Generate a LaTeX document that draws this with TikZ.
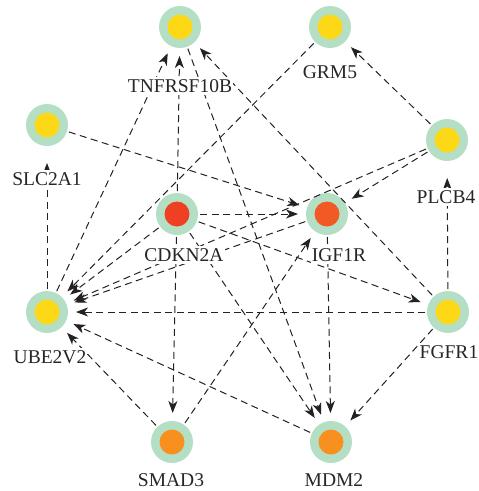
\documentclass[tikz,border=0pt]{standalone}
\usepackage{fontspec}
\setmainfont{Liberation Serif}
\usetikzlibrary{arrows.meta}
\definecolor{ring}{HTML}{B4DFC4}
\definecolor{gold}{HTML}{FDD816}
\definecolor{hotred}{HTML}{EE4124}
\definecolor{redorange}{HTML}{F15A24}
\definecolor{amber}{HTML}{F7901E}
\definecolor{linkcol}{HTML}{222222}
\tikzset{
  gene/.style={circle, fill=ring, minimum size=42pt, inner sep=0pt, outer sep=0pt,
    path picture={\fill[#1] (path picture bounding box.center) circle (12.5pt);}},
  lbl/.style={font=\fontsize{19.5}{20}\selectfont, text=black!85, fill=white,
    inner xsep=1pt, inner ysep=2pt},
  link/.style={draw=linkcol, line width=1pt, dash pattern=on 7pt off 4.5pt,
    -{Stealth[length=12pt,width=9pt,inset=3.5pt]}, shorten >=8pt, shorten <=2pt},
  longtip/.style={shorten >=17pt},
}
\begin{document}
\begin{tikzpicture}[x=1pt,y=-1pt]
\useasboundingbox (0,0) rectangle (479,491);

% genes
\node[gene=gold]      (tnf)  at (180,27)  {};
\node[gene=gold]      (grm)  at (330,27)  {};
\node[gene=gold]      (slc)  at (47,125)  {};
\node[gene=gold]      (plc)  at (447,140) {};
\node[gene=hotred]    (cdk)  at (177,214) {};
\node[gene=redorange] (igf)  at (327,214) {};
\node[gene=gold]      (ube)  at (47,312)  {};
\node[gene=gold]      (fgf)  at (448,312) {};
\node[gene=amber]     (smad) at (172,442) {};
\node[gene=amber]     (mdm)  at (331,442) {};

% interactions
\draw[link] (slc) -- (igf);
\draw[link] (cdk) -- (igf);
\draw[link,longtip] (ube) -- (slc);
\draw[link] (plc) -- (grm);
\draw[link] (plc) -- (igf);
\draw[link] (plc) -- (ube);
\draw[link,longtip] (fgf) -- (plc);
\draw[link] (fgf) -- (ube);
\draw[link] (fgf) -- (tnf);
\draw[link] (fgf) -- (mdm);
\draw[link] (cdk) -- (fgf);
\draw[link] (cdk) -- (tnf);
\draw[link] (cdk) -- (smad);
\draw[link] (cdk) -- (mdm);
\draw[link] (cdk) -- (ube);
\draw[link] (grm) -- (ube);
\draw[link] (tnf) -- (mdm);
\draw[link] (ube) -- (tnf);
\draw[link] (smad) -- (ube);
\draw[link] (smad) -- (igf);
\draw[link] (mdm) -- (ube);
\draw[link] (igf) -- (mdm);
\draw[link] (igf) -- (ube);

% labels, drawn over the links
\node[lbl] (ltnf)  at (180,86)  {TNFRSF10B};
\node[lbl] (lgrm)  at (330,72)  {GRM5};
\node[lbl] (lslc)  at (47,179)  {SLC2A1};
\node[lbl] (lplc)  at (446,197) {PLCB4};
\node[lbl] (lcdk)  at (184,255) {CDKN2A};
\node[lbl] (ligf)  at (339,255) {IGF1R};
\node[lbl] (lube)  at (50,357)  {UBE2V2};
\node[lbl] (lfgf)  at (449,352) {FGFR1};
\node[lbl] (lsmad) at (171,480) {SMAD3};
\node[lbl] (lmdm)  at (334,480) {MDM2};
\end{tikzpicture}
\end{document}
